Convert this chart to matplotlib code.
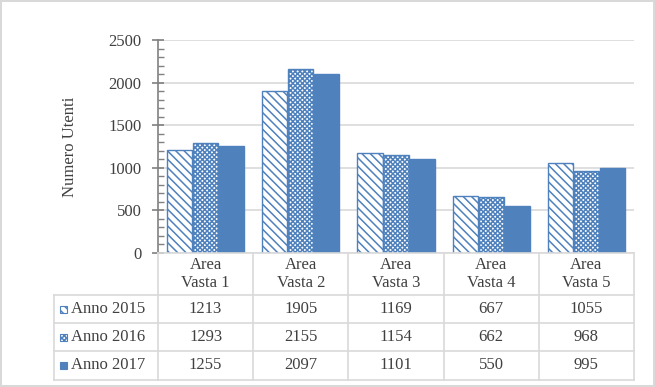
import matplotlib.pyplot as plt
from matplotlib.patches import Rectangle
from matplotlib.lines import Line2D
from matplotlib.transforms import blended_transform_factory

plt.rcParams['font.family'] = ['Liberation Serif', 'DejaVu Serif']
plt.rcParams['hatch.color'] = '#4F81BD'
plt.rcParams['hatch.linewidth'] = 1.1

# data
areas = ['Area\nVasta 1', 'Area\nVasta 2', 'Area\nVasta 3', 'Area\nVasta 4', 'Area\nVasta 5']
series = ['Anno 2015', 'Anno 2016', 'Anno 2017']
anno_2015 = [1213, 1905, 1169, 667, 1055]
anno_2016 = [1293, 2155, 1154, 662, 968]
anno_2017 = [1255, 2097, 1101, 550, 995]

blue = '#4F81BD'
grid_col = '#D9D9D9'
txt_col = '#404040'
styles = [
    dict(facecolor='white', edgecolor=blue, hatch='\\\\\\\\'),
    dict(facecolor='white', edgecolor=blue, hatch='xxxxxxx'),
    dict(facecolor=blue, edgecolor=blue, hatch=None),
]

W, H = 655, 387
fig = plt.figure(figsize=(6.55, 3.87), dpi=100)
fig.patch.set_edgecolor(grid_col)
fig.patch.set_linewidth(1.5)
ax = fig.add_axes([158 / W, 1 - 253 / H, 476 / W, 213 / H])

values = [anno_2015, anno_2016, anno_2017]
w = 0.265
gap = 0.273
for i, vals in enumerate(values):
    xs = [k + (i - 1) * gap for k in range(len(areas))]
    ax.bar(xs, vals, width=w, linewidth=1.0, zorder=3, **styles[i])

ax.set_xlim(-0.5, len(areas) - 0.5)
ax.set_ylim(0, 2500)
ax.set_yticks(range(0, 2501, 500))
ax.set_yticks(range(0, 2501, 100), minor=True)
ax.yaxis.grid(True, color=grid_col, linewidth=1.2, zorder=0)
ax.tick_params(axis='y', which='major', length=8, width=1.2, color='#808080',
               labelsize=12, labelcolor=txt_col, pad=8, direction='inout')
ax.tick_params(axis='y', which='minor', length=4, width=1.0, color='#808080',
               direction='in')
ax.set_xticks([])
for s in ['top', 'right', 'bottom']:
    ax.spines[s].set_visible(False)
ax.spines['left'].set_color('#808080')
ax.spines['left'].set_linewidth(1.2)
ax.set_ylabel('Numero Utenti', fontsize=12, color=txt_col, labelpad=22)

# data table below the plot (x in data units, y in figure pixels)
def fy(py):
    return 1 - py / H

tr = blended_transform_factory(ax.transData, fig.transFigure)
trf = fig.transFigure
x0, x1 = -0.5, len(areas) - 0.5
row_lines = [253, 295, 323, 351, 380]
lab_left = 54 / W

for k, py in enumerate(row_lines):
    fig.add_artist(Line2D([x0, x1], [fy(py)] * 2, transform=tr, color=grid_col, lw=1.2))
    if k > 0:
        fig.add_artist(Line2D([lab_left, 158 / W], [fy(py)] * 2, transform=trf,
                              color=grid_col, lw=1.2))
for k in range(len(areas) + 1):
    fig.add_artist(Line2D([k - 0.5] * 2, [fy(253), fy(380)], transform=tr,
                          color=grid_col, lw=1.2))
fig.add_artist(Line2D([lab_left] * 2, [fy(295), fy(380)], transform=trf,
                      color=grid_col, lw=1.2))

for k, a in enumerate(areas):
    fig.text(k, fy(274), a, transform=tr, ha='center', va='center',
             fontsize=12, color=txt_col, linespacing=1.2)

for i, vals in enumerate(values):
    ymid = fy(309 + 28 * i)
    for k, v in enumerate(vals):
        fig.text(k, ymid, str(v), transform=tr, ha='center', va='center',
                 fontsize=12, color=txt_col)
    fig.text(71 / W, ymid, series[i], transform=trf, ha='left', va='center',
             fontsize=12, color=txt_col)
    fig.add_artist(Rectangle((60 / W, ymid - 3.5 / H), 7 / W, 7 / H,
                             transform=trf, linewidth=0.8, **styles[i]))

fig.savefig('out.png', dpi=100)
